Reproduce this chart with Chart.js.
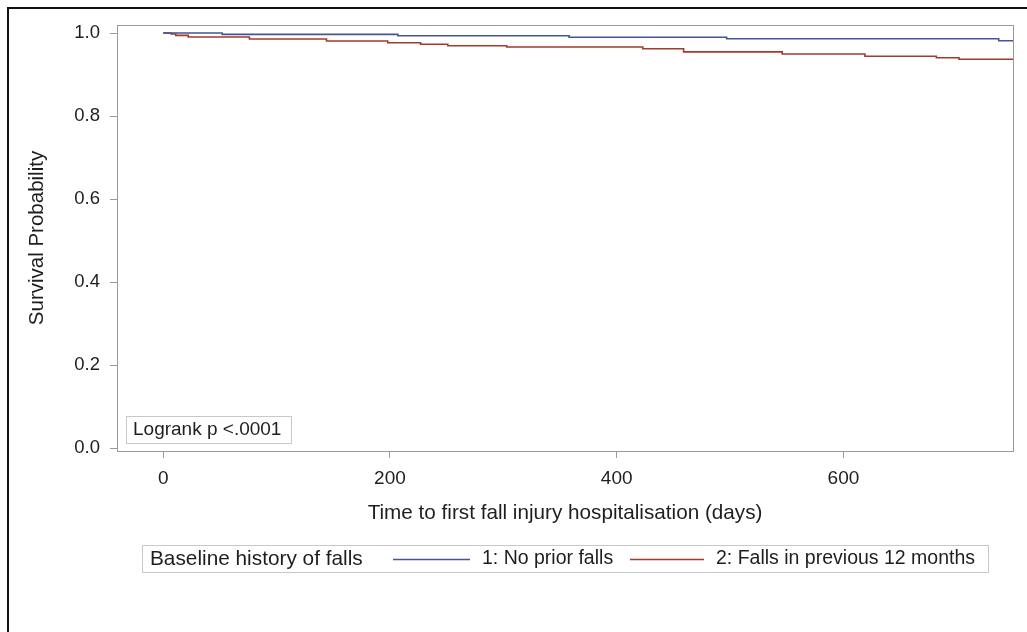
<!DOCTYPE html>
<html>
<head>
<meta charset="utf-8">
<title>Survival by baseline history of falls</title>
<script src="https://cdn.jsdelivr.net/npm/chart.js@4.4.1/dist/chart.umd.min.js"></script>
<style>
  html, body { margin: 0; padding: 0; background: #fff; }
  #wrap { position: relative; width: 1027px; height: 632px; overflow: hidden; }
  #frame { position: absolute; left: 7px; top: 7px; width: 1100px; height: 700px;
           border-left: 2px solid #111; border-top: 2px solid #111; }
  #kmChart { position: absolute; left: 0; top: 0; }
</style>
</head>
<body>
<div id="wrap">
  <div id="frame"></div>
  <canvas id="kmChart" width="1027" height="632"></canvas>
</div>
<script>
// Kaplan-Meier step points (day of step, survival after the step)
const noFallDays  = [0, 52, 207, 358, 497, 737, 750];
const noFallSurv  = [1.0, 0.9968, 0.9933, 0.9897, 0.9862, 0.9812, 0.9812];
const fallDays    = [0, 7, 11, 22, 76, 144, 198, 227, 251, 303, 423, 459, 546, 619, 682, 702, 750];
const fallSurv    = [1.0, 0.9976, 0.9944, 0.9904, 0.9856, 0.9807, 0.9766, 0.9728, 0.9694,
                     0.9663, 0.9622, 0.9545, 0.9494, 0.9439, 0.9405, 0.9367, 0.9367];

const seriesLabels = ['1: No prior falls', '2: Falls in previous 12 months'];
const legendTitle  = 'Baseline history of falls';
const testLabel    = 'Logrank p <.0001';

const xTicks = [0, 200, 400, 600];
const yTicks = [0, 0.2, 0.4, 0.6, 0.8, 1.0];

(function(){
  const FONT = '"Liberation Sans", Arial, sans-serif';
  const TEXT = '#1e1e1e';
  const AXIS = '#9a9a9a';
  const BOX  = '#c8c8c8';
  const BLUE = '#445694';
  const RED  = '#A23A2E';

  const toPts = (xs, ys) => xs.map((x, i) => ({ x, y: ys[i] }));

  // plot frame, p-value inset and the bottom legend
  const decor = {
    id: 'kmDecor',
    beforeDatasetsDraw(chart) {
      const { ctx, chartArea: a } = chart;
      ctx.save();
      ctx.strokeStyle = AXIS;
      ctx.lineWidth = 1;
      ctx.strokeRect(Math.round(a.left) + 0.5, Math.round(a.top) + 0.5,
                     Math.round(a.right - a.left), Math.round(a.bottom - a.top));
      ctx.restore();
    },
    afterDraw(chart) {
      const { ctx } = chart;
      ctx.save();
      ctx.lineWidth = 1;
      ctx.textBaseline = 'middle';
      ctx.fillStyle = TEXT;

      // logrank inset
      ctx.strokeStyle = BOX;
      ctx.strokeRect(126.5, 416.5, 165, 27);
      ctx.font = '19px ' + FONT;
      ctx.fillText(testLabel, 133, 430);

      // legend box
      ctx.strokeRect(142.5, 545.5, 846, 27);
      ctx.font = '20.8px ' + FONT;
      ctx.fillStyle = TEXT;
      ctx.fillText(legendTitle, 150, 559);

      const ds = chart.data.datasets;
      const items = [
        { x0: 393, x1: 470, tx: 482 },
        { x0: 630, x1: 704, tx: 716 }
      ];
      items.forEach((it, i) => {
        ctx.strokeStyle = ds[i].borderColor;
        ctx.lineWidth = 1.5;
        ctx.beginPath();
        ctx.moveTo(it.x0, 559.5);
        ctx.lineTo(it.x1, 559.5);
        ctx.stroke();
        ctx.fillStyle = TEXT;
        ctx.font = '19.5px ' + FONT;
        ctx.fillText(ds[i].label, it.tx, 559);
      });
      ctx.restore();
    }
  };

  const ctx = document.getElementById('kmChart').getContext('2d');
  new Chart(ctx, {
    type: 'line',
    data: {
      datasets: [
        { label: seriesLabels[0], data: toPts(noFallDays, noFallSurv),
          borderColor: BLUE, borderWidth: 1.6, stepped: true, pointRadius: 0, fill: false },
        { label: seriesLabels[1], data: toPts(fallDays, fallSurv),
          borderColor: RED, borderWidth: 1.6, stepped: true, pointRadius: 0, fill: false }
      ]
    },
    options: {
      responsive: false,
      animation: false,
      devicePixelRatio: 1,
      layout: { padding: { left: 0, top: 25, right: 14, bottom: 100 } },
      plugins: {
        legend: { display: false },
        tooltip: { enabled: false }
      },
      scales: {
        x: {
          type: 'linear',
          min: -40.8,
          max: 749.6,
          afterFit(scale) { scale.height = 81; },
          afterBuildTicks(scale) { scale.ticks = xTicks.map(v => ({ value: v })); },
          border: { display: false },
          grid: { drawOnChartArea: false, drawTicks: true, tickLength: 7, color: AXIS },
          ticks: { padding: 9, color: TEXT, font: { family: FONT, size: 19 },
                   maxRotation: 0, callback: v => String(v) },
          title: { display: true, text: 'Time to first fall injury hospitalisation (days)',
                   color: TEXT, font: { family: FONT, size: 20.7 }, padding: { top: 0, bottom: 6 } }
        },
        y: {
          type: 'linear',
          min: -0.0065,
          max: 1.0193,
          afterFit(scale) { scale.width = 117; },
          afterBuildTicks(scale) { scale.ticks = yTicks.map(v => ({ value: v })); },
          border: { display: false },
          grid: { drawOnChartArea: false, drawTicks: true, tickLength: 7, color: AXIS },
          ticks: { padding: 10, color: TEXT, font: { family: FONT, size: 18.5 },
                   callback: v => Number(v).toFixed(1) },
          title: { display: true, text: 'Survival Probability',
                   color: TEXT, font: { family: FONT, size: 20.5 }, padding: { top: 25, bottom: 0 } }
        }
      }
    },
    plugins: [decor]
  });
})();
</script>
</body>
</html>
